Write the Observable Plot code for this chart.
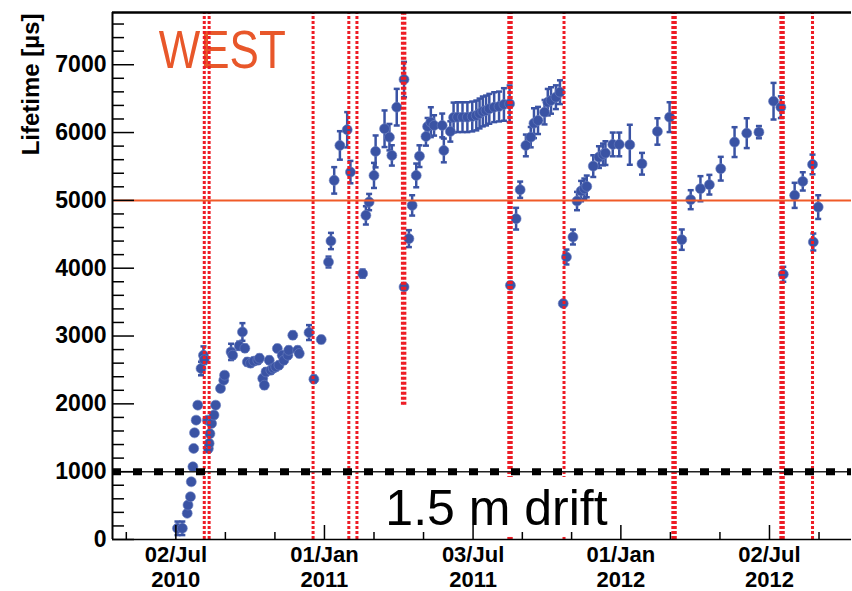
<!DOCTYPE html>
<html>
<head>
<meta charset="utf-8">
<script src="https://cdn.jsdelivr.net/npm/d3@7"></script>
<script src="https://cdn.jsdelivr.net/npm/@observablehq/plot@0.6"></script>
<style>
  body { margin: 0; background: #fff; }
  #chart svg { display: block; }
</style>
</head>
<body>
<div id="chart"></div>
<script>
// ---- measured electron lifetime (µs) ----
const measureDates = [
  "2010-07-04","2010-07-10","2010-07-16","2010-07-17","2010-07-20","2010-07-21","2010-07-23","2010-07-24",
  "2010-07-25","2010-07-27","2010-07-29","2010-08-02","2010-08-05","2010-08-06","2010-08-10","2010-08-11",
  "2010-08-13","2010-08-12","2010-08-15","2010-08-18","2010-08-20","2010-08-26","2010-08-30","2010-08-31",
  "2010-09-08","2010-09-10","2010-09-18","2010-09-22","2010-09-25","2010-09-28","2010-10-02","2010-10-06",
  "2010-10-11","2010-10-13","2010-10-17","2010-10-19","2010-10-21","2010-10-25","2010-10-27","2010-10-30",
  "2010-11-02","2010-11-04","2010-11-06","2010-11-10","2010-11-12","2010-11-17","2010-11-18","2010-11-23",
  "2010-11-29","2010-12-01","2010-12-13","2010-12-19","2010-12-28",
  "2011-01-06","2011-01-09","2011-01-13","2011-01-20","2011-01-29","2011-02-02","2011-02-17","2011-02-21",
  "2011-02-25","2011-03-03","2011-03-05","2011-03-16","2011-03-22","2011-03-25","2011-03-31","2011-04-09",
  "2011-04-09","2011-04-15","2011-04-19","2011-04-24","2011-04-28","2011-05-06","2011-05-08","2011-05-12",
  "2011-05-16","2011-05-26","2011-05-28","2011-06-05","2011-06-09","2011-06-14","2011-06-20","2011-06-26",
  "2011-07-02","2011-07-07","2011-07-11","2011-07-15","2011-07-19","2011-07-23","2011-07-29","2011-08-04",
  "2011-08-10","2011-08-17","2011-08-18","2011-08-25","2011-08-30","2011-09-06","2011-09-12","2011-09-16",
  "2011-09-21","2011-09-29","2011-10-03","2011-10-07","2011-10-13","2011-10-18","2011-10-22","2011-10-26",
  "2011-11-03","2011-11-08","2011-11-13","2011-11-17","2011-11-20","2011-11-28","2011-12-05","2011-12-10",
  "2011-12-13","2011-12-22","2011-12-30",
  "2012-01-12","2012-01-27","2012-02-15","2012-03-01","2012-03-16","2012-03-27","2012-04-08","2012-04-19",
  "2012-05-03","2012-05-20","2012-06-04","2012-06-19","2012-07-07","2012-07-16","2012-07-19","2012-08-02",
  "2012-08-12","2012-08-24","2012-08-25","2012-08-31"
];
const lifetimeValues = [
  165,165,386,508,630,851,1072,1343,
  1573,1760,1981,2521,2717,2650,1760,1340,
  1560,1417,1711,1834,1981,2227,2349,2423,
  2766,2717,2857,3060,2820,2618,2600,2629,
  2643,2673,2374,2275,2471,2643,2496,2526,
  2545,2816,2570,2717,2643,2717,2790,3012,
  2790,2742,3051,2364,2948,
  4091,4401,5295,5810,6041,5417,3920,4779,
  4975,5368,5722,6056,5932,5663,6374,6782,
  3723,4436,4926,5368,5652,5942,6090,6153,
  6105,6105,5736,6016,6222,6227,6227,6227,
  6237,6252,6281,6311,6325,6350,6374,6384,
  6414,6424,3748,4730,5157,5810,5932,6138,
  6178,6300,6448,6473,6521,6595,3479,4165,
  4460,4990,5137,5172,5206,5505,5638,5677,
  5697,5825,5825,
  5820,5540,6016,6227,4421,5010,5172,5231,
  5467,5859,5991,6006,6462,6374,3910,5074,
  5280,5530,4386,4901
];
const lifetimeErrors = [
  100,100,30,30,30,30,30,30,
  30,30,30,100,130,60,40,40,
  40,40,40,40,40,40,40,40,
  120,50,60,130,50,50,50,50,
  50,50,50,50,50,50,50,50,
  50,50,50,50,50,50,50,50,
  50,50,110,50,50,
  80,120,195,210,260,165,60,135,
  120,185,235,270,195,150,270,260,
  40,125,150,175,160,135,125,220,
  150,175,175,150,220,220,220,220,
  220,220,220,220,220,220,220,220,
  240,270,40,160,120,160,150,220,
  200,180,195,195,175,175,40,110,
  110,135,150,150,160,160,160,160,
  175,175,175,
  295,160,195,220,150,140,185,145,
  175,220,220,90,270,160,110,185,
  135,145,125,175
];

// ---- purification / recirculation interruptions (red dotted lines) ----
const interruptDates = ["2010-08-06","2010-08-12","2010-12-18","2011-01-31","2011-02-10","2011-04-07",
  "2011-04-10","2011-08-16","2011-08-19","2011-10-23","2012-03-05","2012-03-08","2012-07-16","2012-07-19","2012-08-24"];
const interruptLow = [0,0,0,0,0,1980,1980,0,0,0,0,0,0,0,0];

// ---- axes ----
const xDomainDates = ["2010-04-15","2012-10-11"];
const yDomainValues = [0, 7770];
const xLabelDates = ["2010-07-02","2011-01-01","2011-07-03","2012-01-01","2012-07-02"];
const xLabelTexts = ["02/Jul\n2010","01/Jan\n2011","03/Jul\n2011","01/Jan\n2012","02/Jul\n2012"];
const yTickValues = [0,1000,2000,3000,4000,5000,6000,7000];
const yMinorValues = [200,400,600,800,1200,1400,1600,1800,2200,2400,2600,2800,3200,3400,3600,3800,
  4200,4400,4600,4800,5200,5400,5600,5800,6200,6400,6600,6800,7200,7400,7600];

// ---- reference lines & annotations ----
const designLifetime = [5000];
const driftTimeLifetime = [1000];
const regionLabel = ["WEST"];
const regionLabelAt = ["2010-06-11", 7504];
const driftLabel = ["1.5 m drift"];
const driftLabelAt = ["2011-03-17", 214];
const driftBox = [["2011-02-15", "2012-02-07", 30, 915]];
const yAxisTitle = "Lifetime [\u00B5s]";

// ---- build ----
const W = 852, H = 591, mL = 112, mR = 1, mT = 12, mB = 52;
const innerW = W - mL - mR, innerH = H - mT - mB;
const toDate = s => new Date(s + "T00:00:00Z");
const points = measureDates.map((d, i) => ({date: toDate(d), v: lifetimeValues[i], e: lifetimeErrors[i]}));
const lines = interruptDates.map((d, i) => ({date: toDate(d), low: interruptLow[i]}));
const labelDates = xLabelDates.map(toDate);
const labelMap = new Map(labelDates.map((d, i) => [+d, xLabelTexts[i]]));
// minor x ticks: thirds between labels, one step beyond each end
const minorX = [];
for (let i = 0; i < labelDates.length - 1; i++) {
  const a = +labelDates[i], b = +labelDates[i + 1];
  minorX.push(new Date(a + (b - a) / 3), new Date(a + 2 * (b - a) / 3));
}
{
  const a0 = +labelDates[0], a1 = +labelDates[1];
  minorX.push(new Date(a0 - (a1 - a0) / 3));
  const n = labelDates.length, b0 = +labelDates[n - 2], b1 = +labelDates[n - 1];
  minorX.push(new Date(b1 + (b1 - b0) / 3));
}
const xStart = toDate(xDomainDates[0]);
const blue = "#3A53A4", red = "#EE1C25", orange = "#F05A28";
const capSymbol = {draw(ctx, size) { const w = Math.sqrt(size / Math.PI); ctx.moveTo(-w, 0); ctx.lineTo(w, 0); }};

const chart = Plot.plot({
  width: W, height: H,
  marginLeft: mL, marginRight: mR, marginTop: mT, marginBottom: mB,
  style: {background: "white", fontFamily: "'Liberation Sans', Arial, sans-serif", color: "black", overflow: "visible"},
  x: {type: "utc", domain: xDomainDates.map(toDate)},
  y: {domain: yDomainValues},
  marks: [
    Plot.text(regionLabel, {x: () => toDate(regionLabelAt[0]), y: () => regionLabelAt[1], text: d => d,
      textAnchor: "start", lineAnchor: "top", fontSize: 53, fill: "#E8572A", fontFamily: "'Liberation Sans', Arial, sans-serif"}),
    Plot.ruleX(points, {x: "date", y1: d => d.v - d.e, y2: d => d.v + d.e, stroke: blue, strokeWidth: 2.5}),
    Plot.dot(points, {x: "date", y: d => d.v + d.e, symbol: capSymbol, r: 3, stroke: blue, strokeWidth: 2.5}),
    Plot.dot(points, {x: "date", y: d => d.v - d.e, symbol: capSymbol, r: 3, stroke: blue, strokeWidth: 2.5}),
    Plot.dot(points, {x: "date", y: "v", r: 5, fill: blue, stroke: "#6c80c0", strokeWidth: 0.6}),
    Plot.ruleX(lines, {x: "date", y1: "low", y2: () => yDomainValues[1], stroke: red, strokeWidth: 3, strokeDasharray: "3,2"}),
    Plot.ruleY(designLifetime, {stroke: orange, strokeWidth: 2}),
    Plot.ruleY(driftTimeLifetime, {stroke: "#222", strokeWidth: 1.5}),
    Plot.ruleY(driftTimeLifetime, {stroke: "black", strokeWidth: 7, strokeDasharray: "9,12"}),
    Plot.rect(driftBox, {x1: d => toDate(d[0]), x2: d => toDate(d[1]), y1: d => d[2], y2: d => d[3], fill: "white"}),
    Plot.text(driftLabel, {x: () => toDate(driftLabelAt[0]), y: () => driftLabelAt[1], text: d => d,
      textAnchor: "start", lineAnchor: "bottom", fontSize: 50, fill: "black"}),
    // frame
    Plot.ruleY([yDomainValues[1]], {stroke: "black", strokeWidth: 2.5}),
    Plot.ruleY([0], {stroke: "black", strokeWidth: 1.5}),
    Plot.ruleX([xStart], {stroke: "black", strokeWidth: 2}),
    // inward ticks
    Plot.tickY(yTickValues, {y: d => d, stroke: "black", strokeWidth: 1.5, insetRight: innerW - 22}),
    Plot.tickY(yMinorValues, {y: d => d, stroke: "black", strokeWidth: 1.5, insetRight: innerW - 12}),
    Plot.tickX(labelDates, {x: d => d, stroke: "black", strokeWidth: 1.5, insetTop: innerH - 14}),
    Plot.tickX(minorX, {x: d => d, stroke: "black", strokeWidth: 1.5, insetTop: innerH - 7}),
    Plot.axisY({ticks: yTickValues, tickSize: 0, tickPadding: 6, tickFormat: d3.format("d"), fontSize: 23, fontWeight: "bold", label: null}),
    Plot.axisX({ticks: labelDates, tickSize: 0, tickPadding: 5, tickFormat: d => labelMap.get(+d), fontSize: 22, fontWeight: "bold", lineHeight: 1.13, label: null}),
    Plot.text([yAxisTitle], {frameAnchor: "top-left", rotate: -90, textAnchor: "end", dx: -91, dy: 1, fontSize: 24, fontWeight: "bold", text: d => d})
  ]
});
document.getElementById("chart").appendChild(chart);
chart.querySelectorAll("text").forEach(t => {
  if (t.textContent === "WEST") { t.setAttribute("textLength", "127"); t.setAttribute("lengthAdjust", "spacingAndGlyphs"); }
});
</script>
</body>
</html>
